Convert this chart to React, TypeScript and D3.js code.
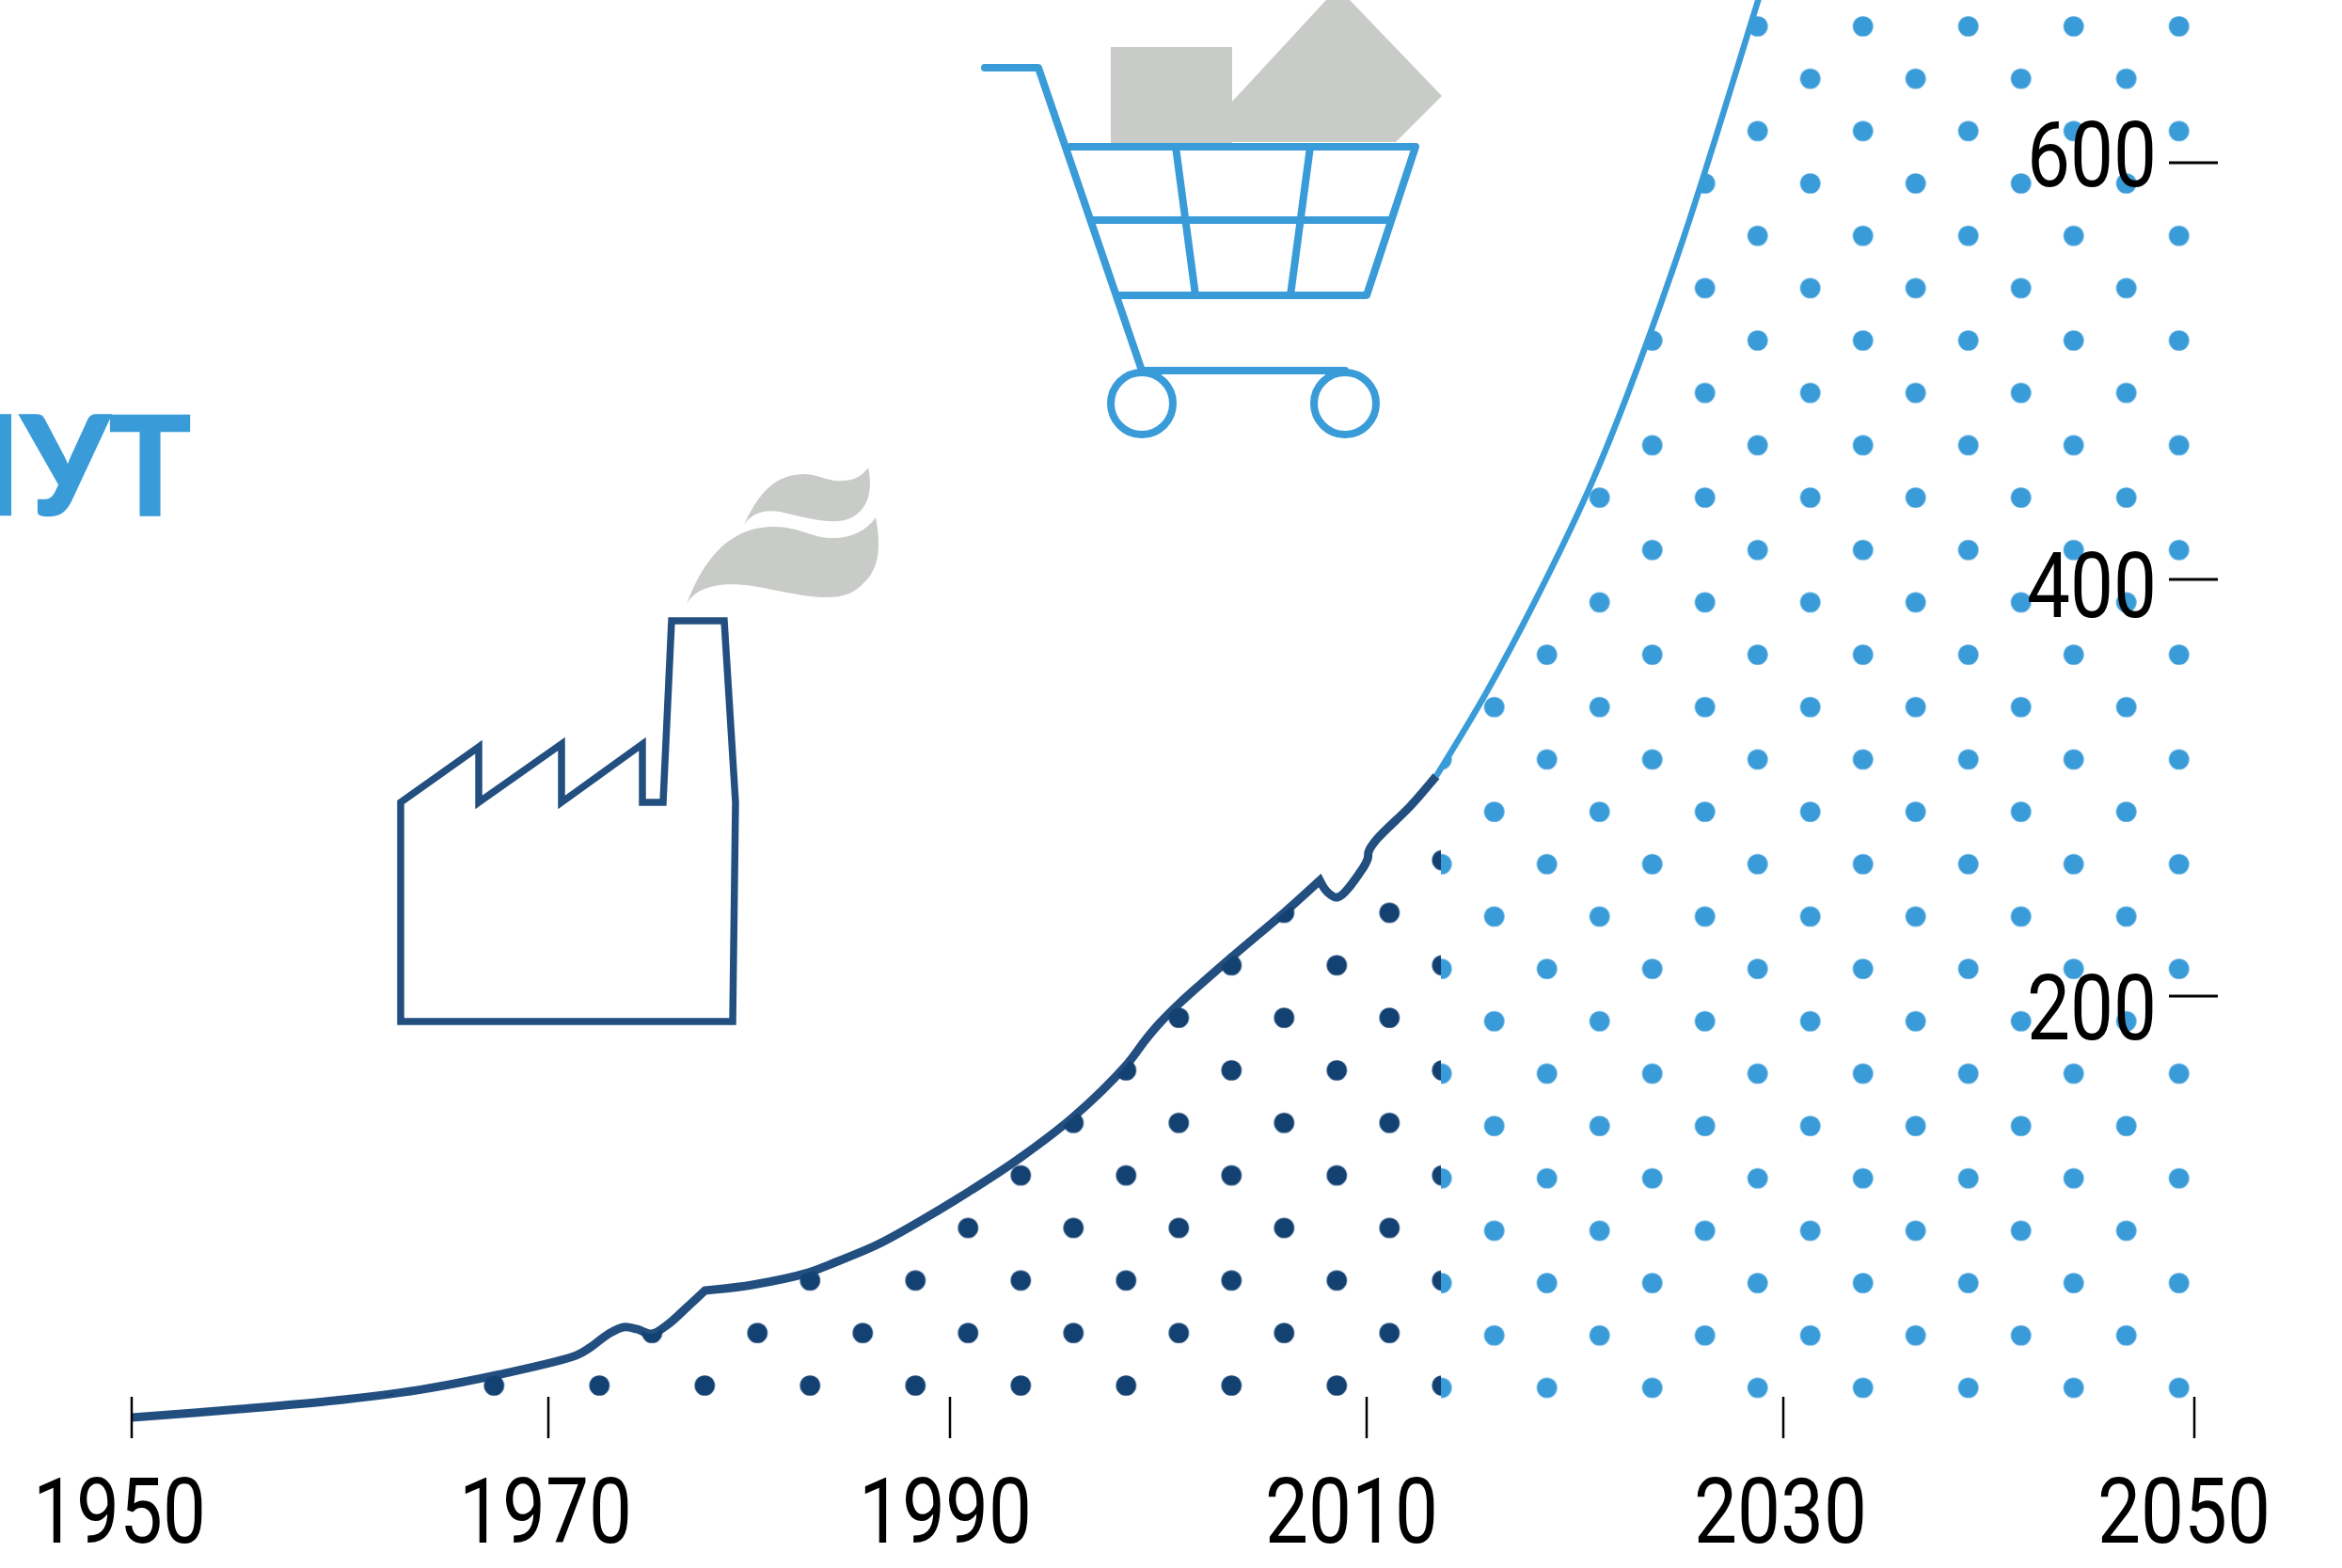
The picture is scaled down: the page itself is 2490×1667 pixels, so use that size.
import React from 'react';
import * as d3 from 'd3';

// historical part of the curve (repeated rows make a sharp corner)
const pastYears = [1950, 1955.2, 1959.5, 1963.8, 1967.6, 1971.4, 1972.06, 1973, 1973.75, 1974.4, 1975.15, 1975.95, 1976.9, 1977.8, 1977.8, 1980.16, 1982.97, 1984.05, 1986.4, 1988.6, 1991.04, 1993.3, 1995.9, 1998.44, 1999.4, 2000.1, 2001, 2003.5, 2006.1, 2007.75, 2007.75, 2008.1, 2008.6, 2009.7, 2010.05, 2010.1, 2010.5, 2012.1, 2013.34];
const pastValues = [-2.3, 1.8, 5.6, 11, 18.3, 27.6, 31.2, 37.9, 41.1, 40.2, 37.9, 42.4, 50.6, 58.7, 58.7, 61.4, 67.3, 71.3, 80.8, 92.5, 107, 121.9, 141.8, 166.6, 179.2, 187.4, 196.4, 218.5, 240.6, 255.5, 255.5, 250.1, 247.4, 259.6, 265.9, 269.5, 275.4, 291.2, 305.6];

// forecast part, leaves the picture at the top around 2029
const forecastYears = [2013.34, 2015.73, 2018.13, 2020.65, 2022.51, 2025.21, 2028.74, 2030, 2040, 2050];
const forecastValues = [305.6, 345.4, 390.5, 442.9, 488.5, 563.9, 676.3, 717, 1052, 1762];

const splitYear = 2013.57;

const xTicks = [1950, 1970, 1990, 2010, 2030, 2050];
const yTicks = [200, 400, 600];

const DARK = '#224f80';
const DARK_DOT = '#134172';
const LIGHT = '#3a9bd9';
const GREY = '#c9cbc8';

// the source axis is not quite even, so ticks and labels get their own stops
const x = d3.scaleLinear().domain(xTicks).range([140, 583, 1010, 1453, 1896, 2333]);
const xLabel = d3.scaleOrdinal<number, number>().domain(xTicks).range([127, 580, 1005, 1437, 1893, 2322]);
const y = d3.scaleLinear().domain([0, 600]).range([1502, 173]);
const yLabel = d3.scaleOrdinal<number, number>().domain(yTicks).range([1105, 656, 198]);

const toPoints = (ys: number[], vs: number[]) => ys.map((yr, i) => [yr, vs[i]] as [number, number]);
const past = toPoints(pastYears, pastValues);
const forecast = toPoints(forecastYears, forecastValues);

const line = d3.line<[number, number]>()
  .x(d => x(d[0]))
  .y(d => y(d[1]))
  .curve(d3.curveCatmullRom.alpha(0.5));

const area = d3.area<[number, number]>()
  .x(d => x(d[0]))
  .y0(y(0))
  .y1(d => y(d[1]))
  .curve(d3.curveCatmullRom.alpha(0.5));

const whole = [...past, ...forecast.slice(1)];

const App: React.FC = () => (
  <svg width={2490} height={1667} style={{ position: 'absolute', left: 0, top: 0, background: '#fff' }}>
    <defs>
      <pattern id="dotsDark" patternUnits="userSpaceOnUse" x={861.3 - 28} y={1361.3 - 27.925} width={112} height={111.7}>
        <circle cx={28} cy={27.925} r={10.8} fill={DARK_DOT} />
        <circle cx={84} cy={83.775} r={10.8} fill={DARK_DOT} />
      </pattern>
      <pattern id="dotsLight" patternUnits="userSpaceOnUse" x={1868.7 - 28} y={28 - 27.835} width={112} height={111.34}>
        <circle cx={28} cy={27.835} r={10.8} fill={LIGHT} />
        <circle cx={84} cy={83.505} r={10.8} fill={LIGHT} />
      </pattern>
      <clipPath id="leftOfSplit">
        <rect x={0} y={0} width={x(splitYear)} height={1667} />
      </clipPath>
      <clipPath id="rightOfSplit">
        <rect x={x(splitYear)} y={0} width={2490 - x(splitYear)} height={1667} />
      </clipPath>
    </defs>

    {/* curve */}
    <path d={line(forecast) ?? ''} fill="none" stroke={LIGHT} strokeWidth={6.5} />
    <path d={line(past) ?? ''} fill="none" stroke={DARK} strokeWidth={9} strokeLinejoin="miter" />

    {/* dotted area under the curve */}
    <path d={area(whole) ?? ''} fill="url(#dotsDark)" clipPath="url(#leftOfSplit)" />
    <path d={area(whole) ?? ''} fill="url(#dotsLight)" clipPath="url(#rightOfSplit)" />

    {/* x axis */}
    {xTicks.map(t => (
      <g key={t}>
        <line x1={x(t)} x2={x(t)} y1={1485} y2={1529} stroke="#000" strokeWidth={2.5} />
        <text x={xLabel(t)} y={1640} textAnchor="middle" fontFamily="Roboto" fontSize={96}
          textLength={184} lengthAdjust="spacingAndGlyphs" fill="#000">{t}</text>
      </g>
    ))}

    {/* y axis */}
    {yTicks.map(t => (
      <g key={t}>
        <line x1={2306} x2={2358} y1={y(t)} y2={y(t)} stroke="#000" strokeWidth={3} />
        <text x={2293} y={yLabel(t)} textAnchor="end" fontFamily="Roboto" fontSize={96}
          textLength={138} lengthAdjust="spacingAndGlyphs" fill="#000">{t}</text>
      </g>
    ))}

    {/* word cut by the left edge */}
    <text x={203} y={547} textAnchor="end" fontFamily="Lato" fontWeight={700} fontSize={145}
      fill={LIGHT} stroke={LIGHT} strokeWidth={2.5}>НУТ</text>

    {/* factory */}
    <path d="M426,1086V853L509,794V853L597,791V853L683,791V853H705L714,660H770L782,853L779,1086Z"
      fill="none" stroke={DARK} strokeWidth={7.5} strokeLinejoin="miter" />
    <path d="M730,642C748,595 775,560 823,560C850,560 866,573 886,572C905,572 922,564 931,550C937,580 935,605 918,620C900,640 875,638 816,626C790,620 745,615 730,642Z" fill={GREY} />
    <path d="M791,558C806,525 824,504 855,504C870,504 882,513 896,511C908,511 917,506 923,497C928,520 924,540 906,550C890,558 870,554 829,544C812,541 798,546 791,558Z" fill={GREY} />

    {/* shopping cart */}
    <path d="M1181,50H1310V108L1410,0H1435L1533,102L1484,151H1310V157H1181Z" fill={GREY} />
    <g fill="none" stroke={LIGHT} strokeWidth={8} strokeLinejoin="round" strokeLinecap="round">
      <path d="M1047,72H1104L1214,394" />
      <path d="M1138,156H1505L1453,314H1190" />
      <path d="M1160,234H1478" />
      <path d="M1250,156L1271,314" />
      <path d="M1393,156L1372,314" />
      <path d="M1214,394H1430" />
      <circle cx={1214} cy={429} r={33} fill="#fff" />
      <circle cx={1430} cy={429} r={33} fill="#fff" />
    </g>
  </svg>
);

export default App;
